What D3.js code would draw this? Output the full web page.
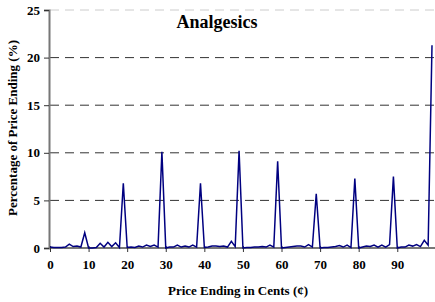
<!DOCTYPE html>
<html>
<head>
<meta charset="utf-8">
<script src="https://cdn.jsdelivr.net/npm/d3@7"></script>
<style>
  body { margin: 0; background: #fff; }
  text { font-family: "Liberation Serif", "Times New Roman", serif; font-weight: bold; }
</style>
</head>
<body>
<svg class="chart-svg"></svg>
<script>
var svgWidth = 435;
var svgHeight = 302;

// price endings 0..99 cents
var cents = d3.range(0, 100);
// percentage of prices with that ending
var percents = [
  0.1, 0.05, 0.05, 0.05, 0.1, 0.4, 0.15, 0.2, 0.1, 1.6,
  0, 0, 0.05, 0.5, 0.1, 0.6, 0.15, 0.55, 0.05, 6.8,
  0.05, 0.1, 0.05, 0.2, 0.1, 0.3, 0.15, 0.3, 0.1, 10.1,
  0, 0.1, 0.1, 0.3, 0.1, 0.2, 0.1, 0.3, 0.1, 6.8,
  0.05, 0.1, 0.2, 0.2, 0.15, 0.2, 0.1, 0.7, 0.15, 10.2,
  0, 0.05, 0.05, 0.1, 0.1, 0.15, 0.1, 0.3, 0.1, 9.1,
  0, 0.05, 0.1, 0.15, 0.2, 0.2, 0.1, 0.35, 0.1, 5.7,
  0, 0.05, 0.05, 0.1, 0.15, 0.25, 0.1, 0.3, 0.05, 7.3,
  0, 0.1, 0.2, 0.15, 0.3, 0.1, 0.3, 0.1, 0.35, 7.5,
  0, 0.1, 0.1, 0.3, 0.2, 0.35, 0.15, 0.8, 0.3, 21.3
];
var xTicks = [0, 10, 20, 30, 40, 50, 60, 70, 80, 90];
var yTicks = [0, 5, 10, 15, 20, 25];

var plotLeft = 50, plotRight = 432, plotTop = 10, plotBottom = 248;

var svg = d3.select('.chart-svg').attr('width', svgWidth).attr('height', svgHeight);

var x_scale = d3.scaleLinear().domain([0, 99]).range([plotLeft, plotRight]);
var y_scale = d3.scaleLinear().domain([0, 25]).range([plotBottom, plotTop]);

// dashed gridlines
svg.append('g').selectAll('line').data(yTicks.filter(function(d){ return d > 0; })).enter().append('line')
  .attr('x1', plotLeft).attr('x2', svgWidth)
  .attr('y1', function(d){ return y_scale(d); })
  .attr('y2', function(d){ return y_scale(d); })
  .attr('stroke', function(d){ return d == 25 ? '#ccc' : '#333'; })
  .attr('stroke-width', 1)
  .attr('stroke-dasharray', '9,6');

// y axis
var y_axis = d3.axisLeft(y_scale).tickValues(yTicks).tickSize(5).tickPadding(4);
var gy = svg.append('g').attr('class', 'y-axis').attr('transform', 'translate(' + (plotLeft - 1) + ',0)').call(y_axis);
gy.select('.domain').attr('stroke', '#777').attr('stroke-width', 2);
gy.selectAll('.tick line').attr('stroke', '#333');
gy.selectAll('.tick text').attr('font-size', 13).attr('fill', '#000')
  .style('font-family', '"Liberation Serif", serif').style('font-weight', 'bold');

// x axis
var x_axis = d3.axisBottom(x_scale).tickValues(xTicks).tickSize(4).tickPadding(8).tickSizeOuter(0);
var gx = svg.append('g').attr('class', 'x-axis').attr('transform', 'translate(0,' + plotBottom + ')').call(x_axis);
gx.select('.domain').attr('stroke', '#777').attr('stroke-width', 2).attr('d', 'M' + (plotLeft - 1) + ',0H' + svgWidth);
gx.selectAll('.tick line').attr('stroke', '#333').attr('y1', -2);
gx.selectAll('.tick text').attr('font-size', 13).attr('fill', '#000')
  .style('font-family', '"Liberation Serif", serif').style('font-weight', 'bold');

// the series line
var line = d3.line()
  .x(function(d, i){ return x_scale(cents[i]); })
  .y(function(d){ return y_scale(d); });

svg.append('path').datum(percents)
  .attr('d', line)
  .attr('fill', 'none')
  .attr('stroke', '#000080')
  .attr('stroke-width', 1.5)
  .attr('stroke-linejoin', 'miter');

// titles
svg.append('text').text('Analgesics')
  .attr('x', 217).attr('y', 28)
  .attr('text-anchor', 'middle').attr('font-size', 18);

svg.append('text').text('Price Ending in Cents (¢)')
  .attr('x', 238).attr('y', 295)
  .attr('text-anchor', 'middle').attr('font-size', 13);

svg.append('text').text('Percentage of Price Ending (%)')
  .attr('transform', 'translate(17,128) rotate(-90)')
  .attr('text-anchor', 'middle').attr('font-size', 13);
</script>
</body>
</html>
